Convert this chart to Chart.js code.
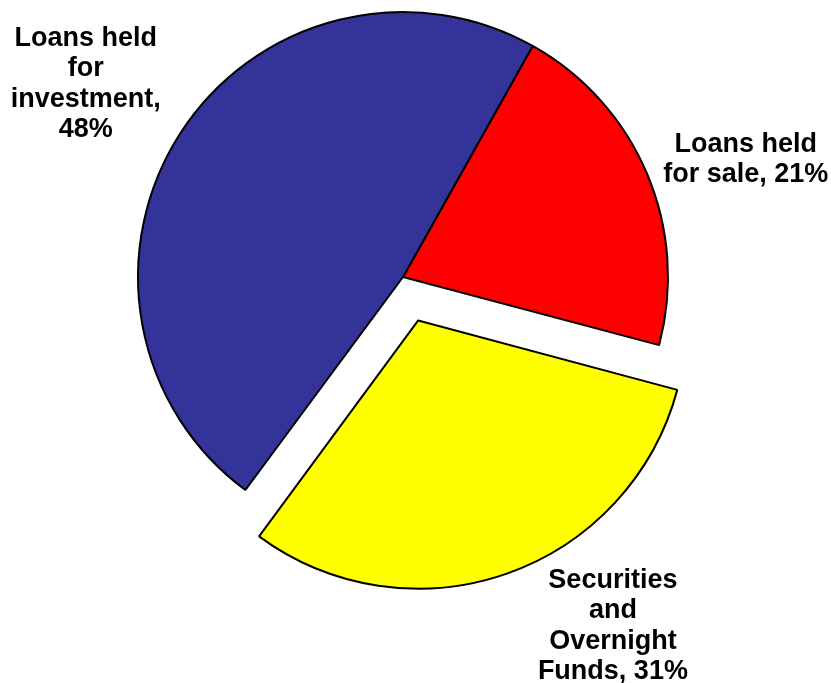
<!DOCTYPE html>
<html>
<head>
<meta charset="utf-8">
<style>
  html, body { margin: 0; padding: 0; background: #fff; }
  canvas { display: block; }
</style>
<script src="https://cdn.jsdelivr.net/npm/chart.js@4/dist/chart.umd.min.js"></script>
</head>
<body>
<canvas id="myChart" width="831" height="683"></canvas>
<script>
// portfolio mix, drawn clockwise starting from the red slice
let categories = ["Loans held for sale", "Securities and Overnight Funds", "Loans held for investment"];
let shares = [21, 31, 48];
let sliceColors = ["#FF0000", "#FFFF00", "#333399"];
let labelLines = [
    ["Loans held", "for sale, 21%"],
    ["Securities", "and", "Overnight", "Funds, 31%"],
    ["Loans held", "for", "investment,", "48%"]
];
// chart.js moves an arc out by offset / 4
let explode = [0, 184, 0];

// where each label sits: distance past the rim along the slice middle, then a nudge
let labelPlace = [
    { d: 93, dx: 13, dy: 22 },
    { d: 82, dx: 80, dy: -22 },
    { d: 107, dx: -5, dy: 9 }
];

const sliceLabels = {
    id: 'sliceLabels',
    afterDraw(chart) {
        let ctx = chart.ctx;
        let arcs = chart.getDatasetMeta(0).data;
        ctx.save();
        ctx.font = "bold 27px 'Liberation Sans', Arial, sans-serif";
        ctx.fillStyle = "#000";
        ctx.textAlign = "center";
        ctx.textBaseline = "middle";
        arcs.forEach(function(arc, i) {
            let mid = (arc.startAngle + arc.endAngle) / 2;
            let off = (arc.options.offset || 0) / 4;
            let cx = arc.x + Math.cos(mid) * off;
            let cy = arc.y + Math.sin(mid) * off;
            let p = labelPlace[i];
            let dist = arc.outerRadius + p.d;
            let x = cx + Math.cos(mid) * dist + p.dx;
            let y = cy + Math.sin(mid) * dist + p.dy;
            let lines = labelLines[i];
            let lh = 30.3;
            let top = y - (lines.length - 1) * lh / 2;
            lines.forEach(function(t, k) {
                ctx.fillText(t, x, top + k * lh);
            });
        });
        ctx.restore();
    }
};

let chart = new Chart("myChart", {
    type: "pie",
    data: {
        labels: categories,
        datasets: [{
            data: shares,
            backgroundColor: sliceColors,
            borderColor: "#000",
            borderWidth: 2,
            offset: explode
        }]
    },
    options: {
        responsive: false,
        animation: false,
        rotation: 29.3,
        radius: 265,
        layout: { padding: { left: 0, right: 25, top: 0, bottom: 129 } },
        plugins: {
            legend: { display: false },
            tooltip: { enabled: false }
        }
    },
    plugins: [sliceLabels]
});
</script>
</body>
</html>
